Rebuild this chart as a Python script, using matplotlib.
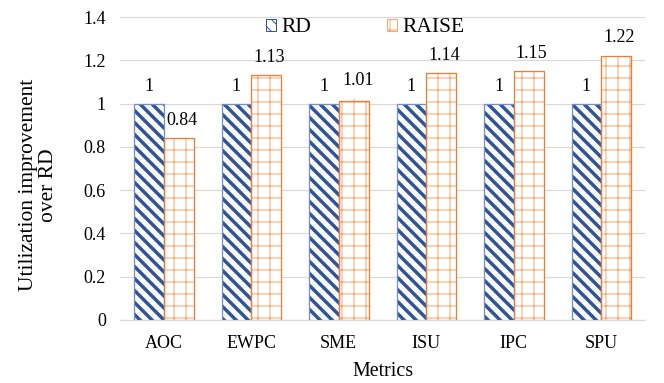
import matplotlib
matplotlib.use("Agg")
import matplotlib.pyplot as plt
import numpy as np

# values
metrics = ["AOC", "EWPC", "SME", "ISU", "IPC", "SPU"]
rd_vals = [1, 1, 1, 1, 1, 1]
raise_vals = [0.84, 1.13, 1.01, 1.14, 1.15, 1.22]
yticks = [0, 0.2, 0.4, 0.6, 0.8, 1, 1.2, 1.4]
ytick_labels = ["0", "0.2", "0.4", "0.6", "0.8", "1", "1.2", "1.4"]

plt.rcParams["font.family"] = ["Liberation Serif", "DejaVu Serif"]
plt.rcParams["hatch.linewidth"] = 1.0

# dpi 72 so that 1 pt == 1 px and hatch spacing is close to the reference
fig = plt.figure(figsize=(664 / 72, 383 / 72), dpi=72)
ax = fig.add_axes([120 / 664, 1 - 320 / 383, 525 / 664, 303 / 383])

x = np.arange(len(metrics))
w = 0.34

rd_bars = ax.bar(x - w / 2, rd_vals, w, color="white", edgecolor="#2F5597",
                 hatch="\\\\", linewidth=0, zorder=3, label="RD")
raise_bars = ax.bar(x + w / 2, raise_vals, w, color="white", edgecolor="#F7A66F",
                    hatch="+", linewidth=0, zorder=3, label="RAISE")
for b in rd_bars:
    if hasattr(b, "set_hatch_linewidth"):
        b.set_hatch_linewidth(3.5)
for b in raise_bars:
    if hasattr(b, "set_hatch_linewidth"):
        b.set_hatch_linewidth(1.0)

# outlines
ax.bar(x - w / 2, rd_vals, w, fill=False, edgecolor="#6F8FCF", linewidth=1.3, zorder=4)
ax.bar(x + w / 2, raise_vals, w, fill=False, edgecolor="#ED7D31", linewidth=1.3, zorder=4)

# data labels
for i in range(len(metrics)):
    ax.annotate(str(rd_vals[i]), (x[i] - w / 2, rd_vals[i]), xytext=(0, 17),
                textcoords="offset points", ha="center", va="center", fontsize=18)
    if metrics[i] == "SME":
        ax.annotate(f"{raise_vals[i]:.2f}", (x[i] + w / 2, raise_vals[i]), xytext=(5, 21),
                    textcoords="offset points", ha="center", va="center", fontsize=18,
                    arrowprops=dict(arrowstyle="-", color="#A6A6A6", lw=0.8,
                                    shrinkA=8, shrinkB=1))
    else:
        ax.annotate(f"{raise_vals[i]:.2f}", (x[i] + w / 2, raise_vals[i]), xytext=(3, 18),
                    textcoords="offset points", ha="center", va="center", fontsize=18)

ax.set_xlim(-0.5, len(metrics) - 0.5)
ax.set_ylim(0, 1.4)
ax.set_yticks(yticks)
ax.set_yticklabels(ytick_labels)
ax.set_xticks(x)
ax.set_xticklabels(metrics)
ax.tick_params(axis="both", length=0, labelsize=18)
ax.tick_params(axis="x", pad=15)
ax.tick_params(axis="y", pad=14)

ax.grid(axis="y", color="#D9D9D9", linewidth=1.2, zorder=0)
ax.set_axisbelow(True)
for s in ["top", "right", "left"]:
    ax.spines[s].set_visible(False)
ax.spines["bottom"].set_color("#D9D9D9")
ax.spines["bottom"].set_linewidth(1.2)

ax.set_xlabel("Metrics", fontsize=20, labelpad=10)
ax.set_ylabel("Utilization improvement\nover RD", fontsize=21.5, linespacing=1.1)
ax.yaxis.set_label_coords(-0.118, 0.445)

leg = ax.legend(handles=[rd_bars, raise_bars], labels=["RD", "RAISE"], ncol=2,
                frameon=False, loc="center left", bbox_to_anchor=(264 / 664, 1 - 28 / 383),
                bbox_transform=fig.transFigure, fontsize=21.5, handlelength=0.47,
                handleheight=0.47, handletextpad=0.25, columnspacing=3.49,
                borderpad=0.1, borderaxespad=0)
for h in leg.legend_handles:
    h.set_linewidth(1.0)
    if hasattr(h, "set_hatch_linewidth"):
        h.set_hatch_linewidth(2.5 if h.get_label() == "RD" else 1.0)

fig.savefig("out.png", dpi=72)
